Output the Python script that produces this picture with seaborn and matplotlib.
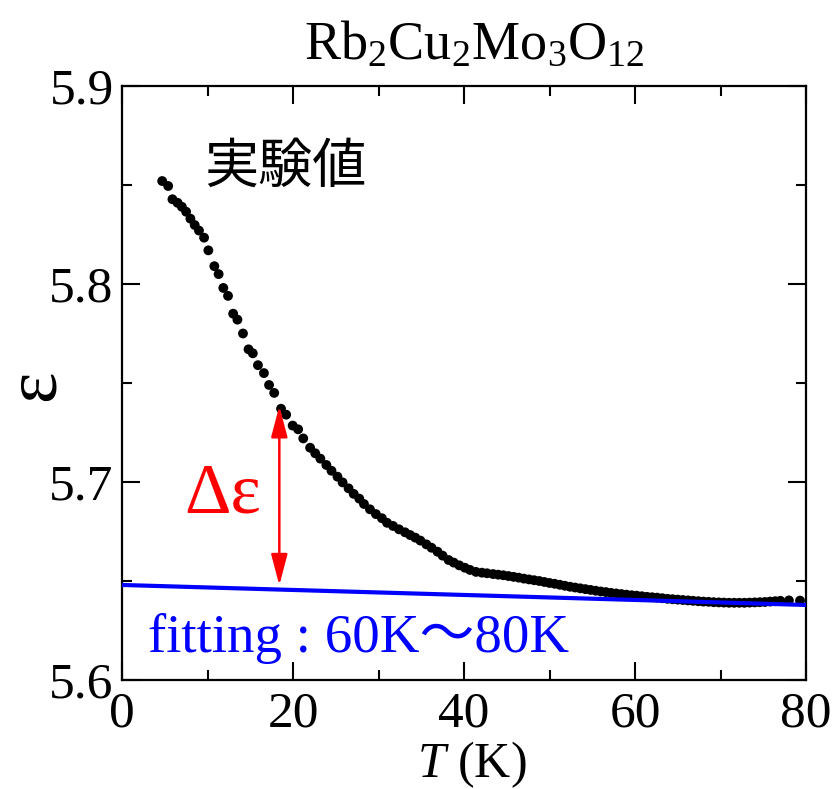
import matplotlib
matplotlib.use("Agg")
import matplotlib.pyplot as plt
import seaborn as sns
import pandas as pd
from matplotlib.ticker import MultipleLocator

sns.set_style("ticks")
plt.rcParams['font.family'] = ['Liberation Serif', 'Noto Sans CJK JP', 'DejaVu Sans']
plt.rcParams['mathtext.fontset'] = 'custom'
plt.rcParams['mathtext.rm'] = 'Liberation Serif'
plt.rcParams['mathtext.it'] = 'Liberation Serif:italic'
plt.rcParams['text.color'] = 'black'
plt.rcParams['axes.labelcolor'] = 'black'
plt.rcParams['xtick.color'] = 'black'
plt.rcParams['ytick.color'] = 'black'

# ---- data ----
T_exp = [4.7, 5.4, 5.9, 6.5, 7.0, 7.5, 8.0, 8.5, 9.0, 9.6, 10.1, 10.8, 11.3, 11.85,
         12.4, 13.0, 13.5, 14.15, 14.8, 15.3, 15.9, 16.6, 17.2, 17.8, 18.6, 19.2,
         19.96, 20.6, 21.2, 22.0, 22.6, 23.2, 23.9, 24.5, 25.2, 25.8, 26.5, 27.1,
         27.75, 28.3, 29.0, 29.7, 30.4, 31.0, 31.7, 32.4, 33.1, 33.7, 34.3, 34.9,
         35.6, 36.2, 36.9, 37.5, 38.2, 38.8, 39.45, 40.1, 40.7, 41.4, 42.1, 42.7,
         43.4, 44.0,
         44.6, 45.2, 45.8, 46.4, 47.0, 47.6, 48.2, 48.8, 49.4, 50.0, 50.6, 51.2,
         51.8, 52.4, 53.0, 53.6, 54.2, 54.8, 55.4, 56.0, 56.6, 57.2, 57.8, 58.4,
         59.0, 59.6, 60.2, 60.8, 61.4, 62.0, 62.6, 63.2, 63.8, 64.4, 65.0, 65.6,
         66.2, 66.8, 67.4, 68.0, 68.6, 69.2, 69.8, 70.4, 71.0, 71.6, 72.2, 72.8,
         73.4, 74.0, 74.6, 75.2, 75.8, 76.4, 77.0, 78.0, 79.3]
eps_exp = [5.852, 5.8495, 5.8428, 5.841, 5.839, 5.8365, 5.833, 5.8298, 5.827, 5.8234,
           5.817, 5.809, 5.805, 5.798, 5.794, 5.785, 5.782, 5.775, 5.767, 5.765,
           5.759, 5.755, 5.749, 5.745, 5.737, 5.734,
           5.7285, 5.7266, 5.722, 5.7173, 5.7145, 5.7118, 5.7086, 5.7057, 5.7027,
           5.6998, 5.6968, 5.694, 5.6916, 5.6889, 5.6862, 5.6838, 5.6817, 5.6794,
           5.6778, 5.6761, 5.6746, 5.6732, 5.6719, 5.6704, 5.6685, 5.6668, 5.6648,
           5.6628, 5.6606, 5.6593, 5.6579, 5.6567, 5.6556, 5.6546, 5.6542, 5.6539,
           5.6535, 5.6532,
           5.6529, 5.6525, 5.6521, 5.6517, 5.6512, 5.6508, 5.6504, 5.6500, 5.6495,
           5.6490, 5.6486, 5.6481, 5.6476, 5.6471, 5.6467, 5.6463, 5.6459, 5.6455,
           5.6451, 5.6447, 5.6444, 5.6440, 5.6437, 5.6434, 5.6431, 5.6428, 5.6426,
           5.6423, 5.6420, 5.6418, 5.6416, 5.6413, 5.6410, 5.6408, 5.6406, 5.6404,
           5.6402, 5.6400, 5.6398, 5.6396, 5.6395, 5.6393, 5.6392, 5.6391, 5.6390,
           5.6390, 5.6390, 5.6390, 5.6391, 5.6392, 5.6393, 5.6394, 5.6396, 5.6398,
           5.6400, 5.6402, 5.6401]

T_fit = [0, 80]
eps_fit = [5.6480, 5.6379]

arrow_T = 18.4
arrow_eps = [5.6478, 5.7384]

x_ticks = [0, 20, 40, 60, 80]
y_ticks = [5.6, 5.7, 5.8, 5.9]

df_exp = pd.DataFrame({"T": T_exp, "eps": eps_exp})
df_fit = pd.DataFrame({"T": T_fit, "eps": eps_fit})

fig = plt.figure(figsize=(8.32, 7.89), dpi=100)
ax = fig.add_axes([122/832, 1 - 680/789, (806 - 122)/832, (680 - 86)/789])

sns.scatterplot(data=df_exp, x="T", y="eps", ax=ax, color="black", s=50,
                edgecolor="none", zorder=3)
sns.lineplot(data=df_fit, x="T", y="eps", ax=ax, color="#0000ff", lw=3.0, zorder=4)

ax.annotate('', xy=(arrow_T, arrow_eps[1]), xytext=(arrow_T, arrow_eps[0]),
            arrowprops=dict(arrowstyle='<|-|>,head_length=1.9,head_width=0.5',
                            color='red', lw=1.8, shrinkA=0, shrinkB=0), zorder=5)

ax.set_xlim(0, 80)
ax.set_ylim(5.6, 5.9)
ax.set_xticks(x_ticks)
ax.set_yticks(y_ticks)
ax.set_xticklabels([str(v) for v in x_ticks])
ax.set_yticklabels([f"{v:.1f}" for v in y_ticks])
ax.xaxis.set_minor_locator(MultipleLocator(10))
ax.yaxis.set_minor_locator(MultipleLocator(0.05))
ax.tick_params(which='both', direction='in', top=True, right=True, width=1.5,
               labelsize=37, colors='black')
ax.tick_params(which='major', length=13)
ax.tick_params(which='minor', length=7)
ax.tick_params(axis='x', pad=8)
ax.tick_params(axis='y', pad=6)
for s in ax.spines.values():
    s.set_visible(True)
    s.set_linewidth(1.6)
    s.set_color('black')
ax.set_xlabel('')
ax.set_ylabel('')

ax.text(9.6, 5.859, '実験値', fontsize=39, va='center', ha='left',
        family=['Noto Sans CJK JP'], color='black')
ax.text(7.3, 5.6848, 'Δε', fontsize=52, color='red', va='baseline', ha='left')
ax.text(3.0, 5.6141, 'fitting : 60K～80K', fontsize=39.5, color='#0000ff',
        va='baseline', ha='left', family=['Liberation Serif', 'Noto Sans CJK JP'])

fig.text(474/832, 1 - 45/789, r'Rb$_2$Cu$_2$Mo$_3$O$_{12}$', fontsize=39,
         ha='center', va='center', color='black')
fig.text(36/832, 1 - 385/789, 'ε', fontsize=54, rotation=90, ha='center',
         va='center', color='black')
fig.text(472/832, 1 - 777/789, r'$\mathit{T}$ (K)', fontsize=36, ha='center',
         va='baseline', color='black')

fig.savefig('out.png', dpi=100)
